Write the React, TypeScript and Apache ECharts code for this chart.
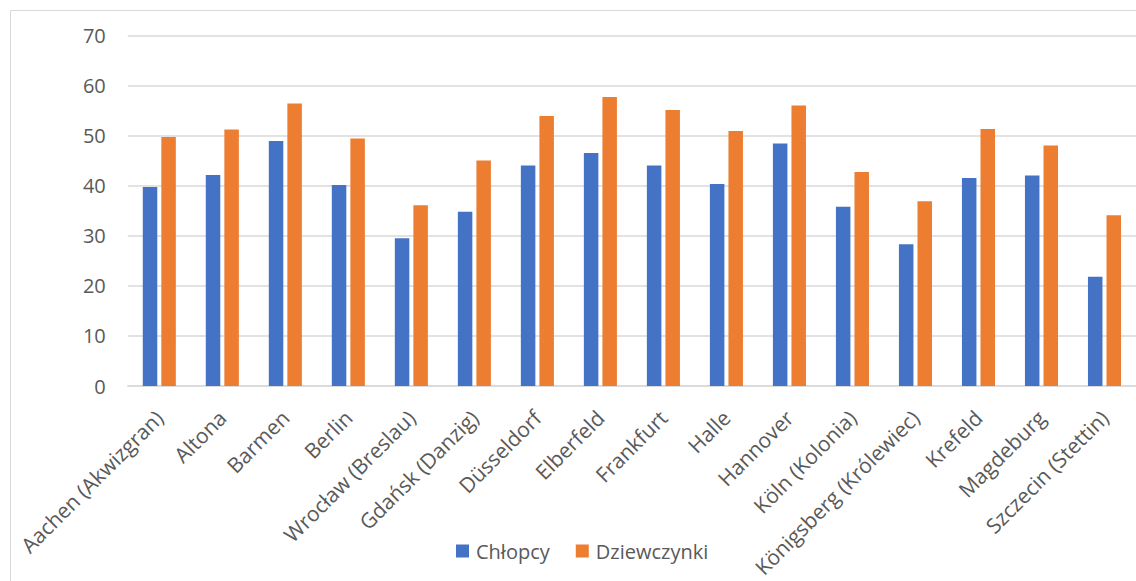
import React, { useEffect, useRef } from "react";
import * as echarts from "echarts";

const cities = [
  "Aachen (Akwizgran)",
  "Altona",
  "Barmen",
  "Berlin",
  "Wrocław (Breslau)",
  "Gdańsk (Danzig)",
  "Düsseldorf",
  "Elberfeld",
  "Frankfurt",
  "Halle",
  "Hannover",
  "Köln (Kolonia)",
  "Königsberg (Królewiec)",
  "Krefeld",
  "Magdeburg",
  "Szczecin (Stettin)",
];

const boys = [39.7, 42.1, 48.9, 40.1, 29.5, 34.8, 44.0, 46.5, 44.0, 40.3, 48.4, 35.8, 28.3, 41.5, 42.0, 21.8];
const girls = [49.7, 51.2, 56.4, 49.4, 36.1, 45.0, 53.9, 57.7, 55.1, 50.9, 56.0, 42.7, 36.9, 51.3, 48.0, 34.1];

const seriesNames = ["Chłopcy", "Dziewczynki"];
const yTicks = { min: 0, max: 70, interval: 10 };

const FONT = "'Open Sans', 'Noto Sans', sans-serif";
const TEXT = "#595959";
const LINE = "#d9d9d9";

export default function App() {
  const ref = useRef<HTMLDivElement>(null);

  useEffect(() => {
    document.body.style.margin = "0";
    if (!ref.current) return;
    const chart = echarts.init(ref.current, null, { renderer: "svg" });
    chart.setOption({
      animation: false,
      backgroundColor: "#ffffff",
      textStyle: { fontFamily: FONT },
      graphic: [
        {
          type: "rect",
          shape: { x: 10.5, y: 10.5, width: 1148, height: 600 },
          style: { fill: "none", stroke: LINE, lineWidth: 1 },
          silent: true,
        },
      ],
      grid: { left: 127.8, top: 35.3, width: 1019.7, height: 350.7 },
      legend: {
        left: 456,
        top: 541,
        padding: 0,
        itemWidth: 13,
        itemHeight: 13,
        itemGap: 26,
        icon: "rect",
        textStyle: { color: TEXT, fontSize: 20, fontFamily: FONT, padding: [0, 0, 0, 2] },
        data: seriesNames,
      },
      xAxis: {
        type: "category",
        data: cities,
        axisTick: { show: false },
        axisLine: { lineStyle: { color: LINE, width: 1.5 } },
        axisLabel: {
          interval: 0,
          rotate: 45,
          margin: 28,
          color: TEXT,
          fontSize: 21,
          fontFamily: FONT,
        },
      },
      yAxis: {
        type: "value",
        min: yTicks.min,
        max: yTicks.max,
        interval: yTicks.interval,
        axisLine: { show: false },
        axisTick: { show: false },
        splitLine: { lineStyle: { color: LINE, width: 1.5 } },
        axisLabel: { margin: 22, color: TEXT, fontSize: 20, fontFamily: FONT },
      },
      series: [
        {
          name: seriesNames[0],
          type: "bar",
          data: boys,
          barWidth: 14.5,
          barGap: "28%",
          itemStyle: { color: "#4472C4" },
        },
        {
          name: seriesNames[1],
          type: "bar",
          data: girls,
          barWidth: 14.5,
          barGap: "28%",
          itemStyle: { color: "#ED7D31" },
        },
      ],
    });
    return () => chart.dispose();
  }, []);

  return <div ref={ref} style={{ width: 1136, height: 581 }} />;
}
